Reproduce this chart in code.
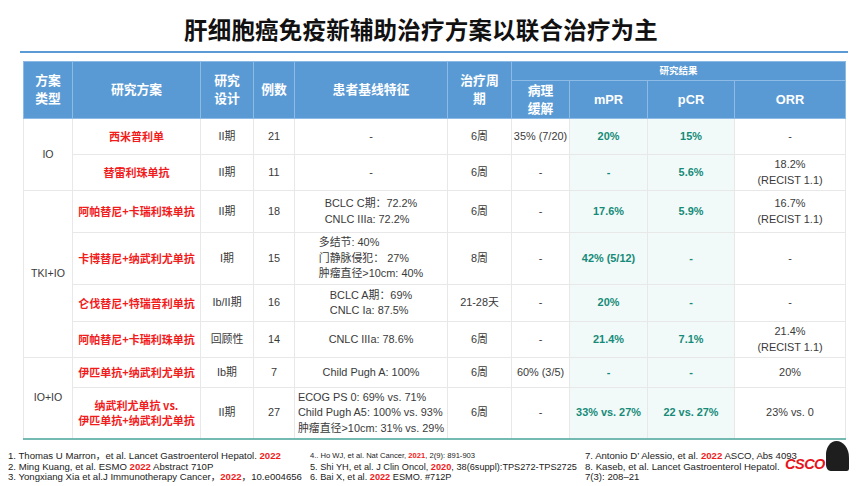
<!DOCTYPE html>
<html>
<head>
<meta charset="utf-8">
<script src="https://cdn.jsdelivr.net/npm/chart.js@4.4.1/dist/chart.umd.min.js"></script>
<style>
  html, body { margin:0; padding:0; background:#fff; width:864px; height:486px; overflow:hidden; }
  body { position:relative; font-family:"Liberation Sans", Arial, "Noto Sans CJK SC", sans-serif; color:#333; }
  #title { position:absolute; left:-11px; top:13px; width:864px; text-align:center; font-family:"Noto Sans CJK SC", sans-serif; font-weight:700; font-size:23.5px; line-height:32px; color:#111; letter-spacing:0.2px; }
  #rule { position:absolute; left:20px; top:51px; width:828px; height:2px; background:#5b9bd5; }
  table { position:absolute; left:23px; top:61px; width:822px; border-collapse:collapse; table-layout:fixed; }
  th { background:#5a9ad4; color:#fff; font-family:"Liberation Sans", Arial, "Noto Sans CJK SC", sans-serif; font-weight:700; font-size:12.8px; line-height:18px; border:1px solid #8dbbe5; padding:0; text-align:center; vertical-align:middle; }
  th.small { font-size:9.5px; line-height:12px; }
  td { border:1px solid #e8e8e8; padding:0; text-align:center; vertical-align:middle; font-size:10.9px; line-height:15.5px; color:#3a3a3a; white-space:nowrap; overflow:hidden; }
  td.grp { font-size:10.6px; }
  td.red { color:#f21b1b; font-weight:700; font-size:11px; font-family:"Noto Sans CJK SC", sans-serif; line-height:15px; }
  td.green { color:#168a78; font-weight:700; background:#f1faf9; }
  .blk { display:inline-block; text-align:left; }
  tr.last td { border-bottom:2px solid #74b9b2; }
  #notes { position:absolute; left:0; top:451px; width:864px; font-family:"Liberation Sans", Arial, "Noto Sans CJK SC", sans-serif; font-size:9.6px; line-height:10.6px; color:#222; }
  .col { position:absolute; top:0; white-space:nowrap; }
  .col.c2 { font-size:9.2px; }
  .col div.sm { font-size:7.6px; }
  .r { color:#f01c1c; font-weight:700; }
  #logo { position:absolute; left:785px; top:456px; color:#e8141c; font-weight:900; font-style:italic; font-size:14.5px; font-family:"Liberation Sans", Arial, sans-serif; letter-spacing:-0.5px; }
  #logoFig { position:absolute; left:826px; top:441px; width:23px; height:30px; background:#1e1e1e; border-radius:45% 55% 8% 20%; }
</style>
</head>
<body>
<div id="title"></div>
<div id="rule"></div>
<table id="tbl"></table>
<div id="notes"></div>
<div id="logoFig"></div>
<div id="logo">CSCO</div>
<script>
// ----- data -----
const title = "肝细胞癌免疫新辅助治疗方案以联合治疗为主";
const headers = ["方案<br>类型", "研究方案", "研究<br>设计", "例数", "患者基线特征", "治疗周<br>期"];
const resultGroup = "研究结果";
const resultHeaders = ["病理<br>缓解", "mPR", "pCR", "ORR"];
const groups = ["IO", "TKI+IO", "IO+IO"];
const groupSpans = [2, 4, 2];
const regimens = ["西米普利单", "替雷利珠单抗", "阿帕替尼+卡瑞利珠单抗", "卡博替尼+纳武利尤单抗", "仑伐替尼+特瑞普利单抗", "阿帕替尼+卡瑞利珠单抗", "伊匹单抗+纳武利尤单抗", "纳武利尤单抗 vs.<br>伊匹单抗+纳武利尤单抗"];
const designs = ["II期", "II期", "II期", "I期", "Ib/II期", "回顾性", "Ib期", "II期"];
const cases = [21, 11, 18, 15, 16, 14, 7, 27];
const baseline = [
  ["-"], ["-"],
  ["BCLC C期：72.2%", "CNLC IIIa: 72.2%"],
  ["多结节: 40%", "门静脉侵犯：  27%", "肿瘤直径>10cm: 40%"],
  ["BCLC A期：69%", "CNLC Ia: 87.5%"],
  ["CNLC IIIa: 78.6%"],
  ["Child Pugh A: 100%"],
  ["ECOG PS 0: 69% vs. 71%", "Child Pugh A5: 100% vs. 93%", "肿瘤直径>10cm: 31% vs. 29%"]
];
const durations = ["6周", "6周", "6周", "8周", "21-28天", "6周", "6周", "6周"];
const pathResponse = ["35% (7/20)", "-", "-", "-", "-", "-", "60% (3/5)", "-"];
const mPR = ["20%", "-", "17.6%", "42% (5/12)", "20%", "21.4%", "-", "33% vs. 27%"];
const pCR = ["15%", "5.6%", "5.9%", "-", "-", "7.1%", "-", "22 vs. 27%"];
const ORR = [["-"], ["18.2%", "(RECIST 1.1)"], ["16.7%", "(RECIST 1.1)"], ["-"], ["-"], ["21.4%", "(RECIST 1.1)"], ["20%"], ["23% vs. 0"]];
const footnotes1 = [
  ["1. Thomas U Marron，et al. Lancet Gastroenterol Hepatol. ", "2022", ""],
  ["2. Ming Kuang, et al. ESMO ", "2022", " Abstract 710P"],
  ["3. Yongxiang Xia et al.J Immunotherapy Cancer，", "2022", "，10.e004656"]
];
const footnotes2 = [
  ["4.. Ho WJ, et al. Nat Cancer, ", "2021", ", 2(9): 891-903"],
  ["5. Shi YH, et al. J Clin Oncol, ", "2020", ", 38(6suppl):TPS272-TPS2725"],
  ["6. Bai X, et al. ", "2022", " ESMO. #712P"]
];
const footnotes3 = [
  ["7. Antonio D’  Alessio, et al. ", "2022", " ASCO, Abs 4093"],
  ["8. Kaseb, et al. Lancet Gastroenterol Hepatol. ", "", ""],
  ["7(3): 208–21", "", ""]
];

// ----- layout -----
const colWidths = [49, 128, 53, 41, 153, 64, 58, 78, 87, 111];
const rowHeights = [36, 36, 42, 52, 37, 36, 30, 51];

document.getElementById('title').textContent = title;
const tbl = document.getElementById('tbl');
let html = '<colgroup>' + colWidths.map(w => `<col style="width:${w}px">`).join('') + '</colgroup>';
html += '<tr style="height:19px">' + headers.map(h => `<th rowspan="2">${h}</th>`).join('') +
        `<th class="small" colspan="${resultHeaders.length}">${resultGroup}</th></tr>`;
html += '<tr style="height:38px">' + resultHeaders.map(h => `<th>${h}</th>`).join('') + '</tr>';
let gi = 0, gLeft = 0;
for (let i = 0; i < regimens.length; i++) {
  const last = i === regimens.length - 1;
  html += `<tr style="height:${rowHeights[i]}px"${last ? ' class="last"' : ''}>`;
  if (gLeft === 0) {
    html += `<td class="grp" rowspan="${groupSpans[gi]}"${gi === groups.length - 1 ? ' style="border-bottom:2px solid #74b9b2"' : ''}>${groups[gi]}</td>`;
    gLeft = groupSpans[gi];
    gi++;
  }
  gLeft--;
  html += `<td class="red">${regimens[i]}</td>`;
  html += `<td>${designs[i]}</td>`;
  html += `<td>${cases[i]}</td>`;
  const b = baseline[i];
  html += `<td>${b.length > 1 ? `<span class="blk">${b.join('<br>')}</span>` : b[0]}</td>`;
  html += `<td>${durations[i]}</td>`;
  html += `<td>${pathResponse[i]}</td>`;
  html += `<td class="green">${mPR[i]}</td>`;
  html += `<td class="green">${pCR[i]}</td>`;
  html += `<td>${ORR[i].join('<br>')}</td>`;
  html += '</tr>';
}
tbl.innerHTML = html;

function noteCol(items, left, cls, smallFirst) {
  const d = document.createElement('div');
  d.className = 'col ' + cls;
  d.style.left = left + 'px';
  d.innerHTML = items.map((it, k) => `<div class="${smallFirst && k === 0 ? 'sm' : ''}">${it[0]}${it[1] ? `<span class="r">${it[1]}</span>` : ''}${it[2]}</div>`).join('');
  document.getElementById('notes').appendChild(d);
}
noteCol(footnotes1, 8, 'c1', false);
noteCol(footnotes2, 310, 'c2', true);
noteCol(footnotes3, 585, 'c3', false);
</script>
</body>
</html>
